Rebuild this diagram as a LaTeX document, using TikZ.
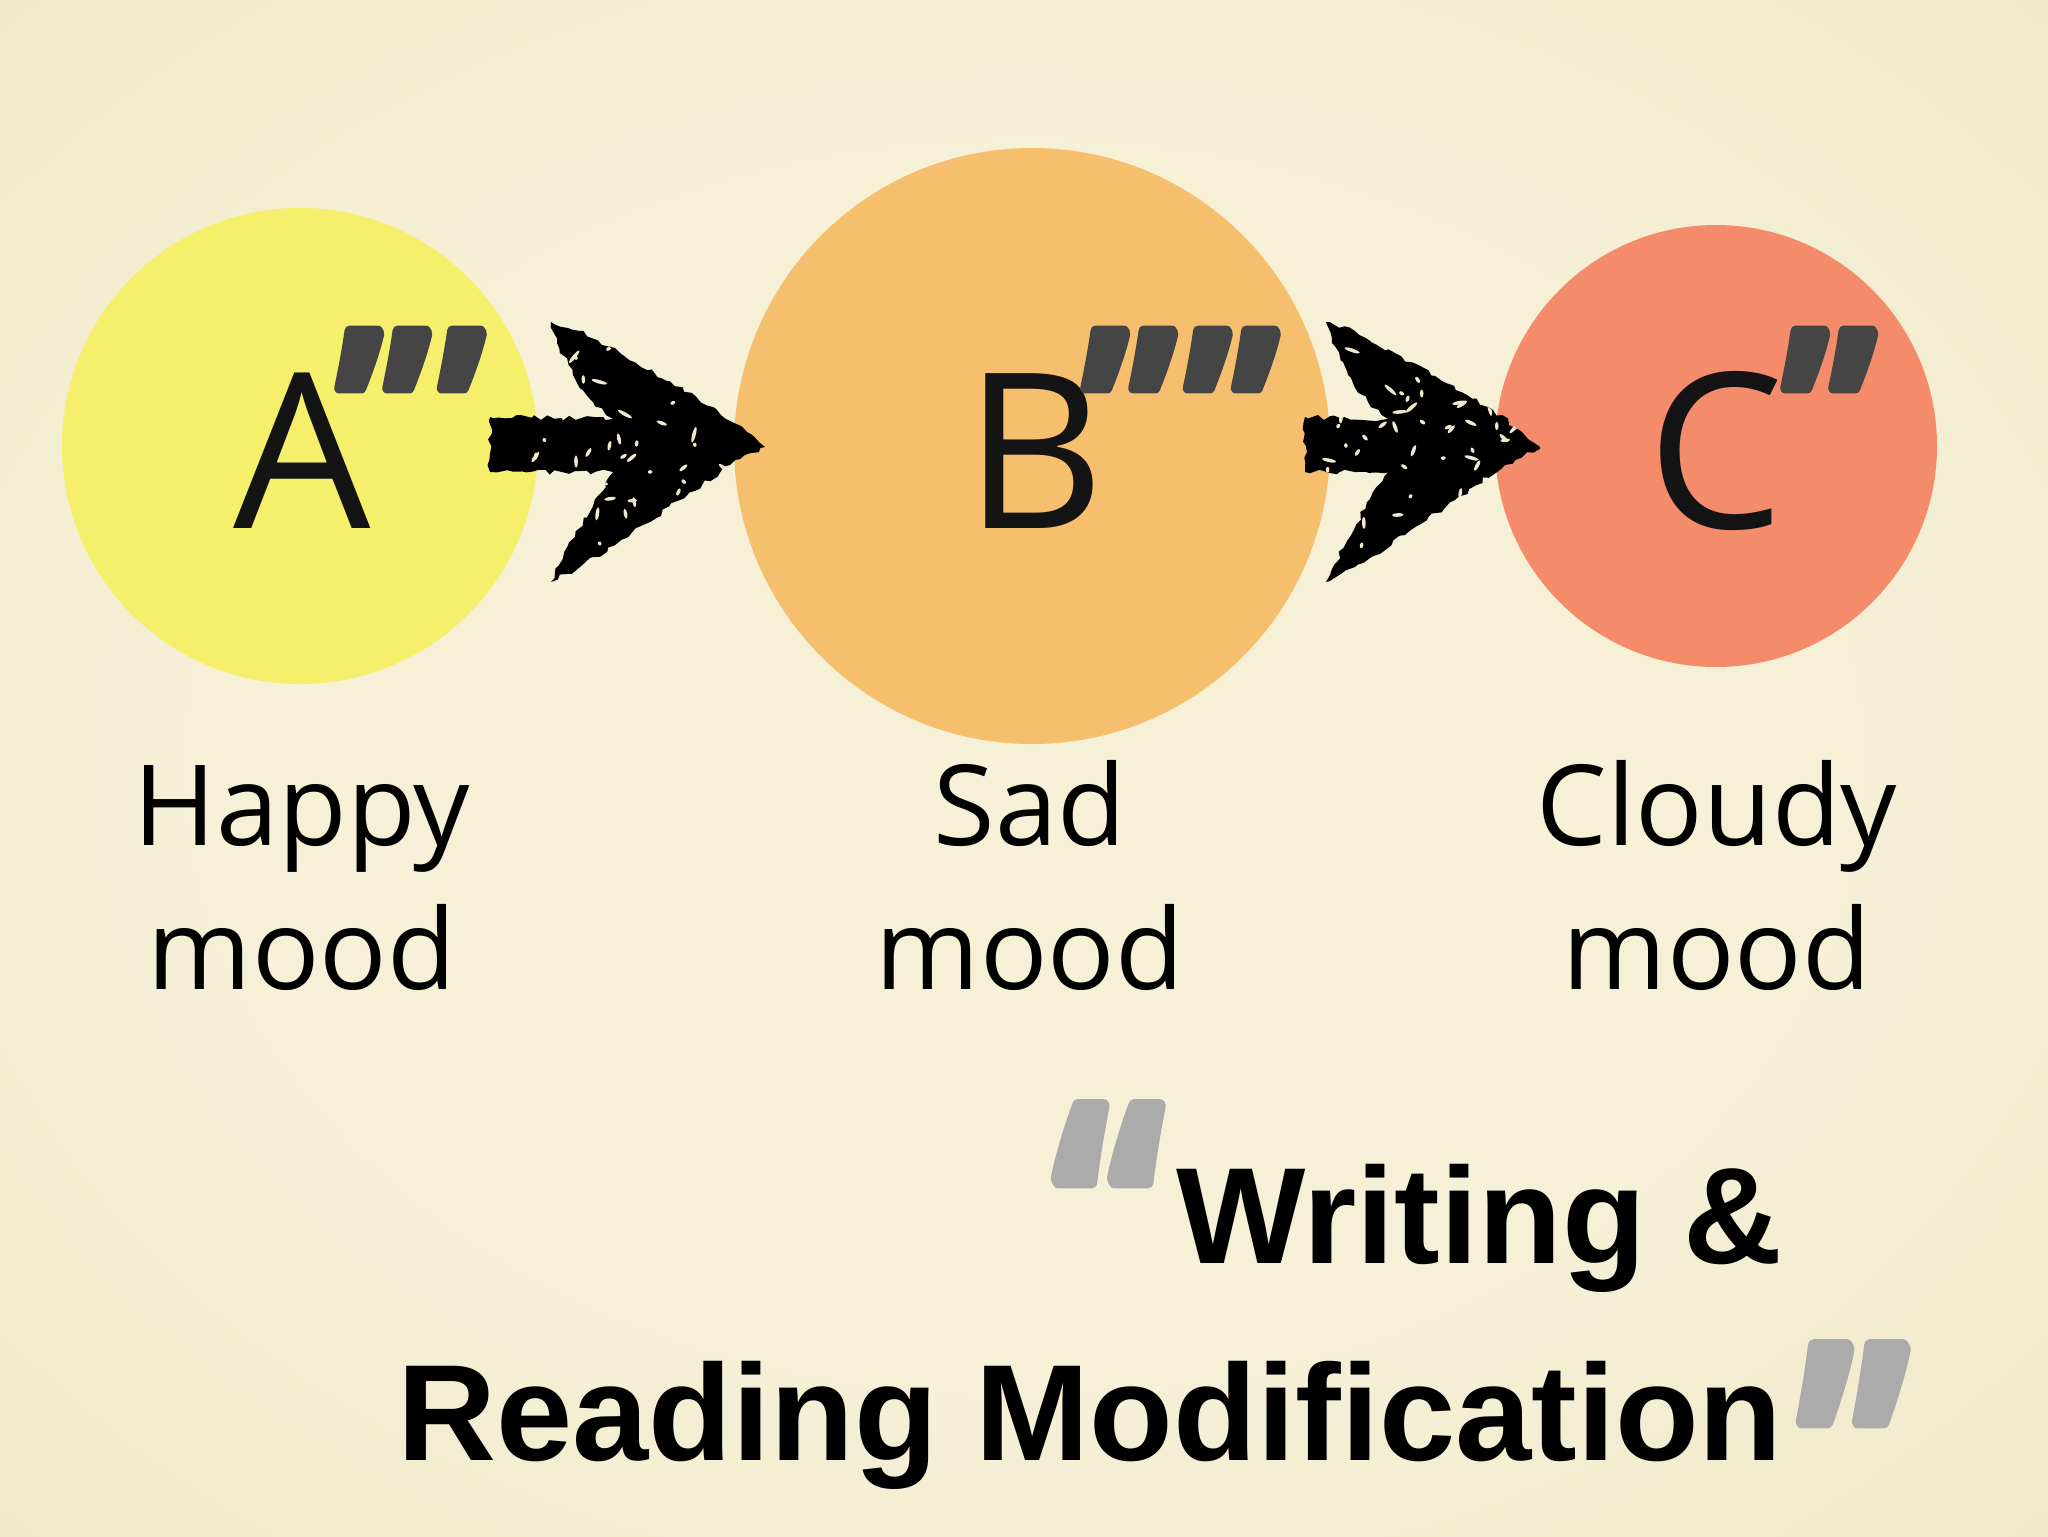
\documentclass[tikz,border=0pt]{standalone}
\usepackage{graphicx}
\usepackage{fontspec}
\newfontfamily\osans{Open Sans}
\newfontfamily\osquote[FakeBold=4.5]{Open Sans}
\newfontfamily\lsans{Liberation Sans}
\usetikzlibrary{decorations.pathmorphing}
\definecolor{bgA}{HTML}{F5F0D6}
\definecolor{bgB}{HTML}{EDE3C0}
\definecolor{bgC}{HTML}{D8C589}
\definecolor{cA}{HTML}{F5EF6B}
\definecolor{cB}{HTML}{F6BF6E}
\definecolor{cC}{HTML}{F48B6B}
\definecolor{ink}{HTML}{141414}
\definecolor{qdark}{HTML}{454545}
\definecolor{qgray}{HTML}{ABABAB}
\definecolor{speck}{HTML}{EFE8CC}
\pgfdeclareradialshading{paper}{\pgfpoint{0bp}{0bp}}{color(0bp)=(bgA); color(20bp)=(bgA); color(46bp)=(bgB); color(72bp)=(bgC)}
\tikzset{
  circ/.style={circle, inner sep=0pt, draw=none},
  bigletter/.style={font=\osans\fontsize{108.5}{120}\selectfont, text=ink, inner sep=0pt},
  darkquote/.style={font=\osquote\bfseries\fontsize{117}{125}\selectfont, text=qdark, inner sep=0pt},
  grayquote/.style={font=\osquote\bfseries\fontsize{154}{165}\selectfont, text=qgray, inner sep=0pt},
  moodtext/.style={font=\osans\fontsize{56}{72}\selectfont, text=black, align=center, inner sep=0pt},
  titletext/.style={font=\lsans\bfseries\fontsize{68.5}{80}\selectfont, text=black, inner sep=0pt},
  pics/brusharrow/.style={code={
    \fill[black, decorate, decoration={random steps, segment length=3pt, amplitude=1.3pt}]
      (0,0) -- (-18,-15) -- (-52,-40) -- (-98,-66) -- (-145,-94) -- (-185,-116) -- (-214,-125)
      -- (-208,-104) -- (-192,-72) -- (-172,-45) -- (-152,-28) -- (-#1,-30) -- (-#1,25)
      -- (-152,25) -- (-170,52) -- (-190,90) -- (-206,118) -- (-214,135) -- (-185,120)
      -- (-135,88) -- (-85,53) -- (-35,18) -- cycle;
    \begin{scope}
      \clip (0,0) -- (-18,-15) -- (-52,-40) -- (-98,-66) -- (-145,-94) -- (-185,-116) -- (-214,-125)
      -- (-208,-104) -- (-192,-72) -- (-172,-45) -- (-152,-28) -- (-#1,-30) -- (-#1,25)
      -- (-152,25) -- (-170,52) -- (-190,90) -- (-206,118) -- (-214,135) -- (-185,120)
      -- (-135,88) -- (-85,53) -- (-35,18) -- cycle;
      \foreach \k in {1,...,60}{
        \pgfmathsetmacro\sx{-10-rnd*230}
        \pgfmathsetmacro\sy{-100+rnd*200}
        \pgfmathsetmacro\sa{rnd*180}
        \pgfmathsetmacro\sr{2+rnd*6}
        \fill[speck, rotate around={\sa:(\sx,\sy)}] (\sx,\sy) ellipse [x radius=\sr, y radius=1.8];
      }
    \end{scope}
  }}
}
\begin{document}
\begin{tikzpicture}[x=0.5pt,y=-0.5pt,line join=round]
\pgfmathsetseed{11}
\useasboundingbox (0,0) rectangle (2048,1536);
\shade[shading=paper] (0,0) rectangle (2048,1536);

% circles
\node[circ, fill=cA, minimum size=238pt] (circA) at (300,446) {};
\node[circ, fill=cB, minimum size=298pt] (circB) at (1032,446) {};
\node[circ, fill=cC, minimum size=221pt] (circC) at (1716,446) {};

% letters
\node[bigletter, anchor=base] (letA) at (302,528) {A};
\node[bigletter, anchor=base] (letB) at (1035,528) {B};
\node[bigletter, anchor=base] (letC) at (1716,528) {C};

% dark quote marks
\node[darkquote, anchor=base west] (qA) at (336,498) {\scalebox{0.9}[1]{”\kern5pt’}};
\node[darkquote, anchor=base west] (qB) at (1082,498) {\scalebox{0.9}[1]{”\kern5pt”}};
\node[darkquote, anchor=base west] (qC) at (1782,498) {\scalebox{0.9}[1]{”}};

% brush arrows
\pic (arrAB) at (765,447) {brusharrow=275};
\pic (arrBC) at (1540,447) {brusharrow=235};

% mood labels
\node[moodtext, anchor=base] (labA) at (302,989) {Happy\\mood};
\node[moodtext, anchor=base] (labB) at (1030,989) {Sad\\mood};
\node[moodtext, anchor=base] (labC) at (1717,989) {Cloudy\\mood};

% title
\node[grayquote, anchor=base west] (qOpen) at (1053,1326) {\scalebox{0.8}[1]{“}};
\node[titletext, anchor=base west] (title1) at (1176,1263) {Writing \&};
\node[titletext, anchor=base west] (title2) at (397,1460) {Reading Modification};
\node[grayquote, anchor=base west] (qClose) at (1798,1566) {\scalebox{0.8}[1]{”}};
\end{tikzpicture}
\end{document}
